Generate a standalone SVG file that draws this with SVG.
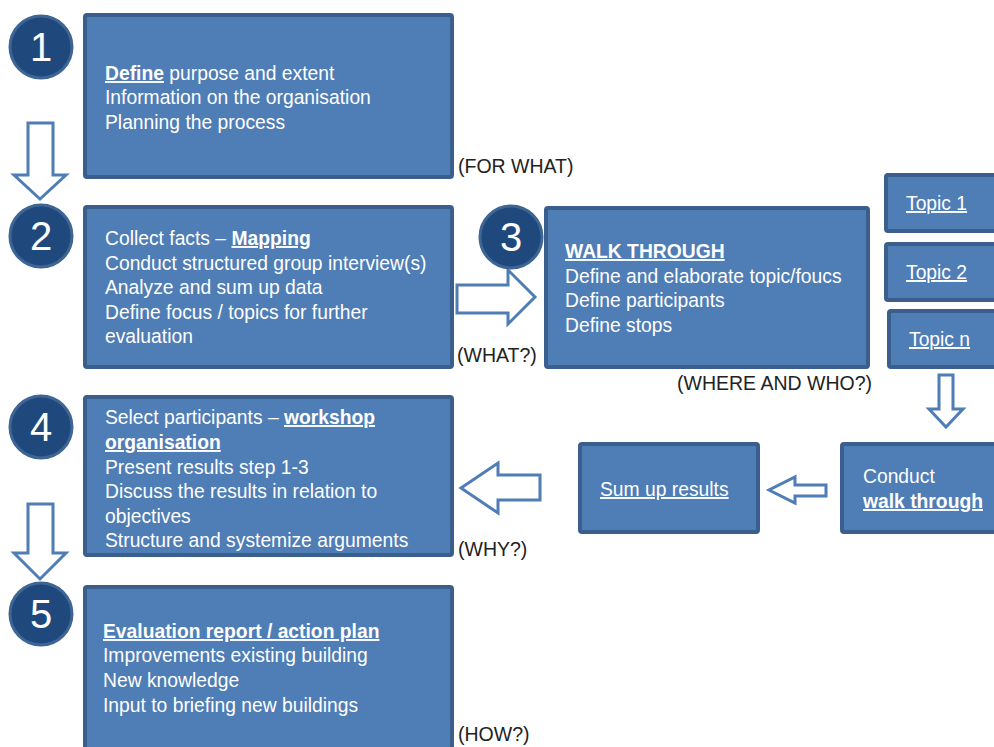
<svg xmlns="http://www.w3.org/2000/svg" width="994" height="747" viewBox="0 0 994 747">
<style>
.box{fill:#4f7db5;stroke:#3a5f8c;stroke-width:4}
.circ{fill:#1f497d;stroke:#3e6594;stroke-width:3}
.num{font-family:"Liberation Sans",Arial,sans-serif;font-size:40px;fill:#fff;text-anchor:middle}
.t{font-family:"Liberation Sans",Arial,sans-serif;font-size:19.3px;fill:#fff}
.b{font-weight:bold;text-decoration:underline}
.u{text-decoration:underline}
.lbl{font-family:"Liberation Sans",Arial,sans-serif;font-size:19.5px;fill:#222}
.arr{fill:#fff;stroke:#4f7db5;stroke-width:3;stroke-linejoin:miter}
</style>
<rect width="994" height="747" fill="#fff"/>

<g id="connectors">
<polygon class="arr" points="28,123 53,123 53,175 66,175 40,199 14,175 28,175"/>
<polygon class="arr" points="457,285 508,285 508,270 535,297 508,324 508,313 457,313"/>
<polygon class="arr" points="939,375 953,375 953,409 963,409 946,427 929,409 939,409"/>
<polygon class="arr" points="826,485 795,485 795,477 769,490 795,503 795,496 826,496"/>
<polygon class="arr" points="540,475 498,475 498,463 461,488 498,513 498,500 540,500"/>
<polygon class="arr" points="28,504 53,504 53,553 66,553 40,579 14,553 28,553"/>
</g>

<g id="n1">
<circle class="circ" cx="41" cy="47" r="31"/>
<text class="num" x="41" y="61">1</text>
<rect class="box" x="85" y="15" width="367" height="162" rx="2"/>
<text class="t" x="105" y="80"><tspan class="b">Define</tspan> purpose and extent</text>
<text class="t" x="105" y="104">Information on the organisation</text>
<text class="t" x="105" y="129">Planning the process</text>
<text class="lbl" x="458" y="173">(FOR WHAT)</text>
</g>

<g id="n2">
<circle class="circ" cx="41" cy="236" r="31"/>
<text class="num" x="41" y="250">2</text>
<rect class="box" x="85" y="207" width="367" height="160" rx="2"/>
<text class="t" x="105" y="245">Collect facts – <tspan class="b">Mapping</tspan></text>
<text class="t" x="105" y="270">Conduct structured group interview(s)</text>
<text class="t" x="105" y="294">Analyze and sum up data</text>
<text class="t" x="105" y="319">Define focus / topics for further</text>
<text class="t" x="105" y="343">evaluation</text>
<text class="lbl" x="457" y="362">(WHAT?)</text>
</g>

<g id="n3">
<rect class="box" x="546" y="208" width="322" height="159" rx="2"/>
<circle class="circ" cx="511" cy="237" r="31"/>
<text class="num" x="511" y="251">3</text>
<text class="t" x="565" y="258"><tspan class="b">WALK THROUGH</tspan></text>
<text class="t" x="565" y="283">Define and elaborate topic/foucs</text>
<text class="t" x="565" y="307">Define participants</text>
<text class="t" x="565" y="332">Define stops</text>
<text class="lbl" x="677" y="390">(WHERE AND WHO?)</text>
</g>

<g id="topic1">
<rect class="box" x="886" y="175" width="112" height="56" rx="2"/>
<text class="t u" x="906" y="210">Topic 1</text>
</g>
<g id="topic2">
<rect class="box" x="886" y="244" width="112" height="56" rx="2"/>
<text class="t u" x="906" y="279">Topic 2</text>
</g>
<g id="topicn">
<rect class="box" x="889" y="311" width="109" height="56" rx="2"/>
<text class="t u" x="909" y="346">Topic n</text>
</g>

<g id="walk">
<rect class="box" x="842" y="444" width="156" height="88" rx="2"/>
<text class="t" x="863" y="483">Conduct</text>
<text class="t b" x="863" y="508">walk through</text>
</g>

<g id="sumup">
<rect class="box" x="580" y="444" width="178" height="88" rx="2"/>
<text class="t u" x="600" y="496">Sum up results</text>
</g>

<g id="n4">
<circle class="circ" cx="41" cy="427" r="31"/>
<text class="num" x="41" y="441">4</text>
<rect class="box" x="85" y="397" width="367" height="158" rx="2"/>
<text class="t" x="105" y="424">Select participants – <tspan class="b">workshop</tspan></text>
<text class="t b" x="105" y="449">organisation</text>
<text class="t" x="105" y="474">Present results step 1-3</text>
<text class="t" x="105" y="498">Discuss the results in relation to</text>
<text class="t" x="105" y="523">objectives</text>
<text class="t" x="105" y="547">Structure and systemize arguments</text>
<text class="lbl" x="458" y="556">(WHY?)</text>
</g>

<g id="n5">
<circle class="circ" cx="41" cy="614" r="31"/>
<text class="num" x="41" y="628">5</text>
<rect class="box" x="85" y="587" width="367" height="168" rx="2"/>
<text class="t b" x="103" y="638">Evaluation report / action plan</text>
<text class="t" x="103" y="662">Improvements existing building</text>
<text class="t" x="103" y="687">New knowledge</text>
<text class="t" x="103" y="712">Input to briefing new buildings</text>
<text class="lbl" x="458" y="741">(HOW?)</text>
</g>
</svg>
